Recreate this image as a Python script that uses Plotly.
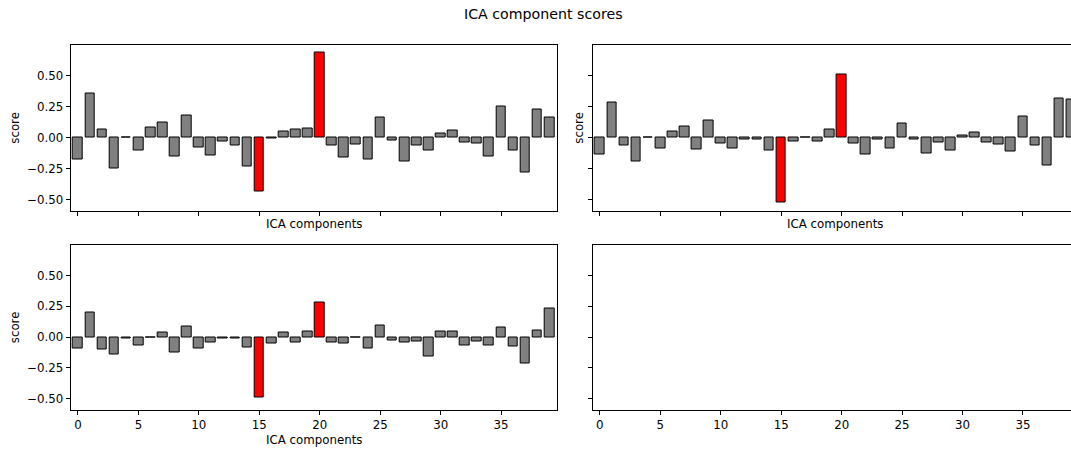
import plotly.graph_objects as go

components = list(range(40))
excluded = [15, 20]

scores_1 = [-0.175, 0.355, 0.065, -0.245, 0.005, -0.107, 0.080, 0.126, -0.148, 0.177,
            -0.078, -0.140, -0.030, -0.065, -0.231, -0.438, -0.004, 0.048, 0.065, 0.070,
            0.685, -0.067, -0.161, -0.059, -0.175, 0.164, -0.024, -0.196, -0.067, -0.105,
            0.032, 0.056, -0.043, -0.051, -0.148, 0.250, -0.100, -0.280, 0.226, 0.159]
scores_2 = [-0.134, 0.282, -0.065, -0.191, 0.005, -0.091, 0.048, 0.089, -0.097, 0.137,
            -0.051, -0.091, -0.016, -0.016, -0.105, -0.527, -0.030, 0.005, -0.030, 0.062,
            0.511, -0.051, -0.134, -0.016, -0.086, 0.118, -0.016, -0.129, -0.043, -0.105,
            0.019, 0.040, -0.043, -0.056, -0.113, 0.172, -0.065, -0.223, 0.317, 0.312]
scores_3 = [-0.094, 0.199, -0.100, -0.142, -0.011, -0.067, -0.002, 0.040, -0.121, 0.089,
            -0.089, -0.046, -0.013, -0.013, -0.081, -0.487, -0.054, 0.040, -0.046, 0.048,
            0.277, -0.043, -0.054, -0.002, -0.094, 0.094, -0.024, -0.043, -0.038, -0.156,
            0.048, 0.048, -0.067, -0.032, -0.067, 0.081, -0.073, -0.212, 0.056, 0.234]

x_tickvals = [0, 5, 10, 15, 20, 25, 30, 35]
y_tickvals = [-0.5, -0.25, 0.0, 0.25, 0.5]
y_ticktext = ["\u22120.50", "\u22120.25", "0.00", "0.25", "0.50"]

W, H = 1071, 450
FONT = "DejaVu Sans"
FS = 11.8

def px_x(p):
    return p / W

def px_y(p):
    return 1 - p / H

colors_for = lambda: ["#ff0000" if c in excluded else "#808080" for c in components]

fig = go.Figure()
for scores, xa, ya in [(scores_1, "x", "y"), (scores_2, "x2", "y2"), (scores_3, "x3", "y3")]:
    fig.add_trace(go.Bar(
        x=components, y=scores, width=0.8, xaxis=xa, yaxis=ya,
        marker=dict(color=colors_for(), line=dict(color="black", width=1)),
        showlegend=False, hoverinfo="x+y",
    ))
# empty fourth panel
fig.add_trace(go.Scatter(x=[None], y=[None], xaxis="x4", yaxis="y4",
                         mode="markers", showlegend=False, hoverinfo="skip"))

left_dom = [px_x(70.7), px_x(556.7)]
right_dom = [px_x(592.6), 1.0]
top_dom = [px_y(211), px_y(44.5)]
bot_dom = [px_y(410), px_y(244.5)]
x_range_left = [-0.6, 39.6]
x_range_right = [-0.6, -0.6 + (W - 592.6) / (486.0 / 40.2)]
y_range = [-0.592, 0.752]

common_x = dict(tickmode="array", tickvals=x_tickvals, ticks="outside", ticklen=4,
                tickcolor="black", tickwidth=1, showgrid=False, zeroline=False,
                showline=True, linecolor="black", linewidth=1, mirror=True,
                tickfont=dict(family=FONT, size=FS, color="black"))
common_y = dict(tickmode="array", tickvals=y_tickvals, ticktext=y_ticktext, ticks="outside",
                ticklen=4, tickcolor="black", tickwidth=1, showgrid=False, zeroline=False,
                showline=True, linecolor="black", linewidth=1, range=y_range,
                tickfont=dict(family=FONT, size=FS, color="black"))

fig.update_layout(
    width=W, height=H, margin=dict(l=0, r=0, t=0, b=0),
    paper_bgcolor="white", plot_bgcolor="white",
    font=dict(family=FONT, size=FS, color="black"),
    bargap=0,
    xaxis=dict(common_x, domain=left_dom, range=x_range_left, anchor="y", showticklabels=False),
    yaxis=dict(common_y, domain=top_dom, anchor="x", mirror=True),
    xaxis2=dict(common_x, domain=right_dom, range=x_range_right, anchor="y2", showticklabels=False),
    yaxis2=dict(common_y, domain=top_dom, anchor="x2", showticklabels=False),
    xaxis3=dict(common_x, domain=left_dom, range=x_range_left, anchor="y3"),
    yaxis3=dict(common_y, domain=bot_dom, anchor="x3", mirror=True),
    xaxis4=dict(common_x, domain=right_dom, range=x_range_right, anchor="y4"),
    yaxis4=dict(common_y, domain=bot_dom, anchor="x4", showticklabels=False),
)

annotations = [
    dict(text="ICA component scores", x=px_x(543.3), y=px_y(14), size=14.2),
    dict(text="ICA components", x=(left_dom[0] + left_dom[1]) / 2, y=px_y(224)),
    dict(text="ICA components", x=px_x(835), y=px_y(224)),
    dict(text="ICA components", x=(left_dom[0] + left_dom[1]) / 2, y=px_y(440)),
    dict(text="score", x=px_x(15), y=(top_dom[0] + top_dom[1]) / 2, textangle=-90),
    dict(text="score", x=px_x(579), y=(top_dom[0] + top_dom[1]) / 2, textangle=-90),
    dict(text="score", x=px_x(15), y=(bot_dom[0] + bot_dom[1]) / 2, textangle=-90),
]
for a in annotations:
    size = a.pop("size", FS)
    fig.add_annotation(xref="paper", yref="paper", showarrow=False,
                       xanchor="center", yanchor="middle",
                       font=dict(family=FONT, size=size, color="black"), **a)

fig.write_html("out.html", config={"displayModeBar": False},
               post_script="document.body.style.margin='0px';document.body.style.overflow='hidden';")
